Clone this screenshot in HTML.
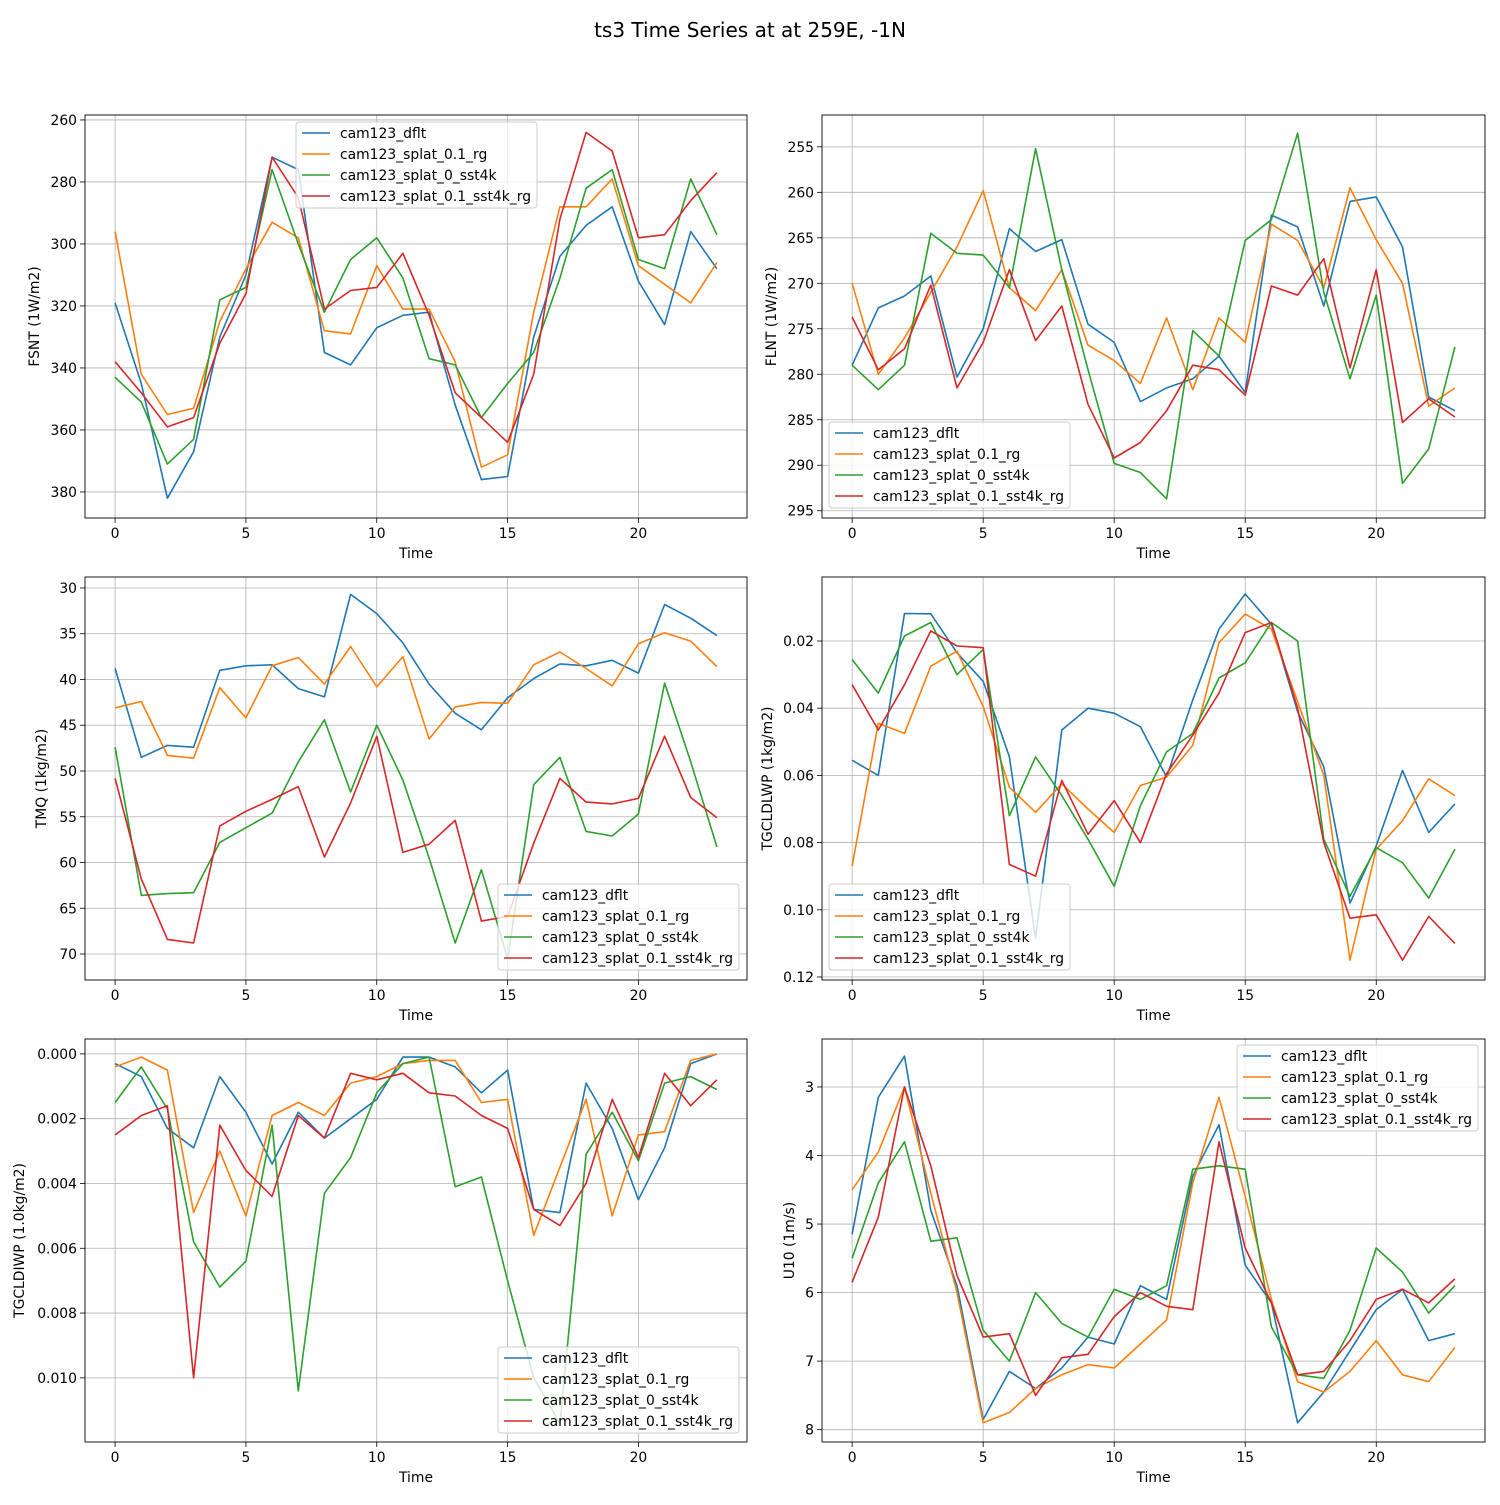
<!DOCTYPE html>
<html><head><meta charset="utf-8"><style>
body{margin:0;background:#fff;}
svg{font-family:"DejaVu Sans","Liberation Sans",sans-serif;}
</style></head><body>
<svg id="fig" width="1500" height="1500" xmlns="http://www.w3.org/2000/svg">
<rect width="1500" height="1500" fill="#fff"/>
<text x="750" y="37" text-anchor="middle" font-size="20">ts3 Time Series at at 259E, -1N</text>
</svg>
<script>
const seriesNames = ["cam123_dflt","cam123_splat_0.1_rg","cam123_splat_0_sst4k","cam123_splat_0.1_sst4k_rg"];
const colors = ["#1f77b4","#ff7f0e","#2ca02c","#d62728"];
const xTicks = [0,5,10,15,20];

const fsntDflt=[319,345,382,367,330,310,272,276,335,339,327,323,322,352,376,375,330,304,294,288,312,326,296,308];
const fsntRg=[296,342,355,353,325,308,293,298,328,329,307,321,321,338,372,368,322,288,288,279,307,313,319,306];
const fsntSst=[343,351,371,363,318,314,276,300,322,305,298,311,337,339,356,345,335,311,282,276,305,308,279,297];
const fsntSstRg=[338,348,359,356,332,316,272,285,321,315,314,303,323,348,356,364,342,292,264,270,298,297,286,277];

const flntDflt=[279,272.7,271.4,269.2,280.3,275,264,266.5,265.2,274.5,276.5,283,281.5,280.5,278,282,262.5,263.8,272.5,261,260.5,266,282.5,284];
const flntRg=[270,280,276,271,266,259.8,270.5,273,268.5,276.8,278.5,281,273.8,281.7,273.8,276.5,263.5,265.3,270.5,259.5,265.2,270,283.5,281.5];
const flntSst=[279,281.7,279,264.5,266.7,266.9,270.5,255.2,268.5,279.5,289.8,290.8,293.7,275.2,278,265.3,263,253.5,271,280.5,271.3,292,288.2,277];
const flntSstRg=[273.7,279.5,277.2,270.2,281.5,276.5,268.5,276.3,272.5,283.3,289.2,287.5,284,279,279.5,282.3,270.3,271.3,267.3,279.3,268.5,285.3,282.7,284.7];

const tmqDflt=[38.8,48.5,47.2,47.4,39,38.5,38.4,41,41.9,30.7,32.8,36,40.5,43.7,45.5,42,39.9,38.3,38.5,37.9,39.3,31.8,33.3,35.2];
const tmqRg=[43.1,42.4,48.3,48.6,40.9,44.2,38.5,37.6,40.5,36.4,40.8,37.5,46.5,43,42.5,42.6,38.4,37,38.8,40.7,36.1,34.9,35.8,38.6];
const tmqSst=[47.4,63.6,63.4,63.3,57.8,56.2,54.6,49,44.4,52.3,45,51,59.5,68.8,60.8,70.5,51.5,48.5,56.6,57.1,54.7,40.4,49,58.3];
const tmqSstRg=[50.8,61.8,68.4,68.8,56,54.4,53.1,51.7,59.4,53.5,46.2,58.9,58,55.4,66.4,65.9,57.9,50.8,53.4,53.6,53,46.2,52.9,55.1];

const lwpDflt=[0.0555,0.06,0.0118,0.0119,0.0235,0.032,0.0545,0.1085,0.0465,0.04,0.0415,0.0455,0.0605,0.0375,0.0165,0.006,0.015,0.041,0.0575,0.098,0.081,0.0585,0.077,0.0685];
const lwpRg=[0.087,0.0445,0.0475,0.0275,0.023,0.0395,0.0635,0.071,0.0625,0.07,0.077,0.063,0.0605,0.051,0.0205,0.012,0.0165,0.038,0.06,0.115,0.082,0.0735,0.061,0.066];
const lwpSst=[0.0255,0.0355,0.0185,0.0145,0.03,0.0225,0.072,0.0545,0.066,0.079,0.093,0.069,0.053,0.0475,0.031,0.0265,0.0145,0.02,0.079,0.096,0.0815,0.086,0.0965,0.082];
const lwpSstRg=[0.033,0.0465,0.033,0.017,0.0215,0.022,0.0865,0.09,0.0615,0.0775,0.0675,0.08,0.0595,0.048,0.0355,0.0175,0.0145,0.04,0.08,0.1025,0.1015,0.115,0.102,0.11];

const iwpDflt=[0.0003,0.0007,0.0023,0.0029,0.0007,0.0018,0.0034,0.0018,0.0026,0.002,0.0014,0.0001,0.0001,0.0004,0.0012,0.0005,0.0048,0.0049,0.0009,0.0023,0.0045,0.0029,0.0003,0.0];
const iwpRg=[0.0004,0.0001,0.0005,0.0049,0.003,0.005,0.0019,0.0015,0.0019,0.0009,0.0007,0.0003,0.0002,0.0002,0.0015,0.0014,0.0056,0.0035,0.0014,0.005,0.0025,0.0024,0.0002,0.0];
const iwpSst=[0.0015,0.0004,0.0017,0.0058,0.0072,0.0064,0.0022,0.0104,0.0043,0.0032,0.0012,0.0003,0.0001,0.0041,0.0038,0.007,0.01,0.0114,0.0031,0.0018,0.0033,0.0009,0.0007,0.0011];
const iwpSstRg=[0.0025,0.0019,0.0016,0.01,0.0022,0.0036,0.0044,0.0019,0.0026,0.0006,0.0008,0.0006,0.0012,0.0013,0.0019,0.0023,0.0048,0.0053,0.004,0.0014,0.0032,0.0006,0.0016,0.0008];

const u10Dflt=[5.15,3.15,2.55,4.8,5.9,7.85,7.15,7.4,7.1,6.65,6.75,5.9,6.1,4.3,3.55,5.6,6.15,7.9,7.45,6.85,6.25,5.95,6.7,6.6];
const u10Rg=[4.5,3.95,3.0,4.55,6.0,7.9,7.75,7.4,7.2,7.05,7.1,6.75,6.4,4.4,3.15,4.6,6.1,7.3,7.45,7.15,6.7,7.2,7.3,6.8];
const u10Sst=[5.5,4.4,3.8,5.25,5.2,6.55,7.0,6.0,6.45,6.65,5.95,6.1,5.9,4.2,4.15,4.2,6.5,7.2,7.25,6.55,5.35,5.7,6.3,5.9];
const u10SstRg=[5.85,4.9,3.0,4.15,5.75,6.65,6.6,7.5,6.95,6.9,6.35,6.0,6.2,6.25,3.8,5.35,6.15,7.2,7.15,6.7,6.1,5.95,6.15,5.8];

const fsntTicks=["260","280","300","320","340","360","380"];
const flntTicks=["255","260","265","270","275","280","285","290","295"];
const tmqTicks=["30","35","40","45","50","55","60","65","70"];
const lwpTicks=["0.02","0.04","0.06","0.08","0.10","0.12"];
const iwpTicks=["0.000","0.002","0.004","0.006","0.008","0.010"];
const u10Ticks=["3","4","5","6","7","8"];

const panels=[
 {name:"fsnt",x0:85,x1:747,y0:115,y1:518,ylim:[258.4,388.4],label:"FSNT (1W/m2)",lOff:46,ticks:fsntTicks,data:[fsntDflt,fsntRg,fsntSst,fsntSstRg],leg:[296,122]},
 {name:"flnt",x0:822,x1:1485,y0:115,y1:518,ylim:[251.5,295.8],label:"FLNT (1W/m2)",lOff:46,ticks:flntTicks,data:[flntDflt,flntRg,flntSst,flntSstRg],leg:[829,422]},
 {name:"tmq",x0:85,x1:747,y0:577,y1:980,ylim:[28.8,72.84],label:"TMQ (1kg/m2)",lOff:39,ticks:tmqTicks,data:[tmqDflt,tmqRg,tmqSst,tmqSstRg],leg:[498,884]},
 {name:"tgcldlwp",x0:822,x1:1485,y0:577,y1:980,ylim:[0.00095,0.1209],label:"TGCLDLWP (1kg/m2)",lOff:50,ticks:lwpTicks,data:[lwpDflt,lwpRg,lwpSst,lwpSstRg],leg:[829,884]},
 {name:"tgcldiwp",x0:85,x1:747,y0:1039,y1:1442,ylim:[-0.00046,0.01198],label:"TGCLDIWP (1.0kg/m2)",lOff:61,ticks:iwpTicks,data:[iwpDflt,iwpRg,iwpSst,iwpSstRg],leg:[498,1347]},
 {name:"u10",x0:822,x1:1485,y0:1039,y1:1442,ylim:[2.30,8.18],label:"U10 (1m/s)",lOff:28,ticks:u10Ticks,data:[u10Dflt,u10Rg,u10Sst,u10SstRg],leg:[1237,1045]}
];
const NS="http://www.w3.org/2000/svg";
const svg=document.getElementById("fig");
function mk(tag,attrs,parent){const e=document.createElementNS(NS,tag);for(const k in attrs)e.setAttribute(k,attrs[k]);(parent||svg).appendChild(e);return e;}
panels.forEach(p=>{
 const g=mk("g",{});
 
 
 const xs=v=>p.x0+(v-(-1.15))/(25.3)*(p.x1-p.x0);
 const ys=v=>p.y0+(v-p.ylim[0])/(p.ylim[1]-p.ylim[0])*(p.y1-p.y0);
 xTicks.forEach(t=>{
  const x=xs(t);
  mk("line",{x1:x,x2:x,y1:p.y0,y2:p.y1,stroke:"#b0b0b0","stroke-width":0.8},g);
  mk("line",{x1:x,x2:x,y1:p.y1,y2:p.y1+5,stroke:"#000","stroke-width":0.8},g);
  const tx=mk("text",{x:x,y:p.y1+20,"text-anchor":"middle","font-size":13.9},g);
  tx.textContent=t;
  
  
 });
 p.ticks.forEach(t=>{
  const y=ys(parseFloat(t));
  mk("line",{x1:p.x0,x2:p.x1,y1:y,y2:y,stroke:"#b0b0b0","stroke-width":0.8},g);
  mk("line",{x1:p.x0-5,x2:p.x0,y1:y,y2:y,stroke:"#000","stroke-width":0.8},g);
  const tx=mk("text",{x:p.x0-8,y:y+5,"text-anchor":"end","font-size":13.9},g);
  tx.textContent=t;
  
  
 });
 p.data.forEach((arr,i)=>{
  const pts=arr.map((v,j)=>xs(j).toFixed(1)+","+ys(v).toFixed(1)).join(" ");
  const pl=mk("polyline",{points:pts,fill:"none",stroke:colors[i],"stroke-width":1.6,"stroke-linejoin":"round"},g);
  
  
 });
 const fr=mk("rect",{x:p.x0,y:p.y0,width:p.x1-p.x0,height:p.y1-p.y0,fill:"none",stroke:"#000","stroke-width":0.9},g);
 
 
 const xl=mk("text",{x:(p.x0+p.x1)/2,y:p.y1+40,"text-anchor":"middle","font-size":13.9},g);
 xl.textContent="Time";
 
 
 const lx=p.x0-p.lOff, ly=(p.y0+p.y1)/2;
 const yl=mk("text",{x:lx,y:ly,"text-anchor":"middle","font-size":13.9,transform:`rotate(-90 ${lx} ${ly})`},g);
 yl.textContent=p.label;
 
 
 const lg=mk("g",{},g);
 
 
 mk("rect",{x:p.leg[0],y:p.leg[1],width:241,height:86,rx:3,fill:"#fff","fill-opacity":0.8,stroke:"#ccc"},lg);
 seriesNames.forEach((n,i)=>{
  const yy=p.leg[1]+11+i*21;
  mk("line",{x1:p.leg[0]+6,x2:p.leg[0]+34,y1:yy,y2:yy,stroke:colors[i],"stroke-width":1.6},lg);
  const t=mk("text",{x:p.leg[0]+44,y:yy+5,"font-size":13.9},lg);
  t.textContent=n;
  
  
 });
});
</script>
</body></html>
